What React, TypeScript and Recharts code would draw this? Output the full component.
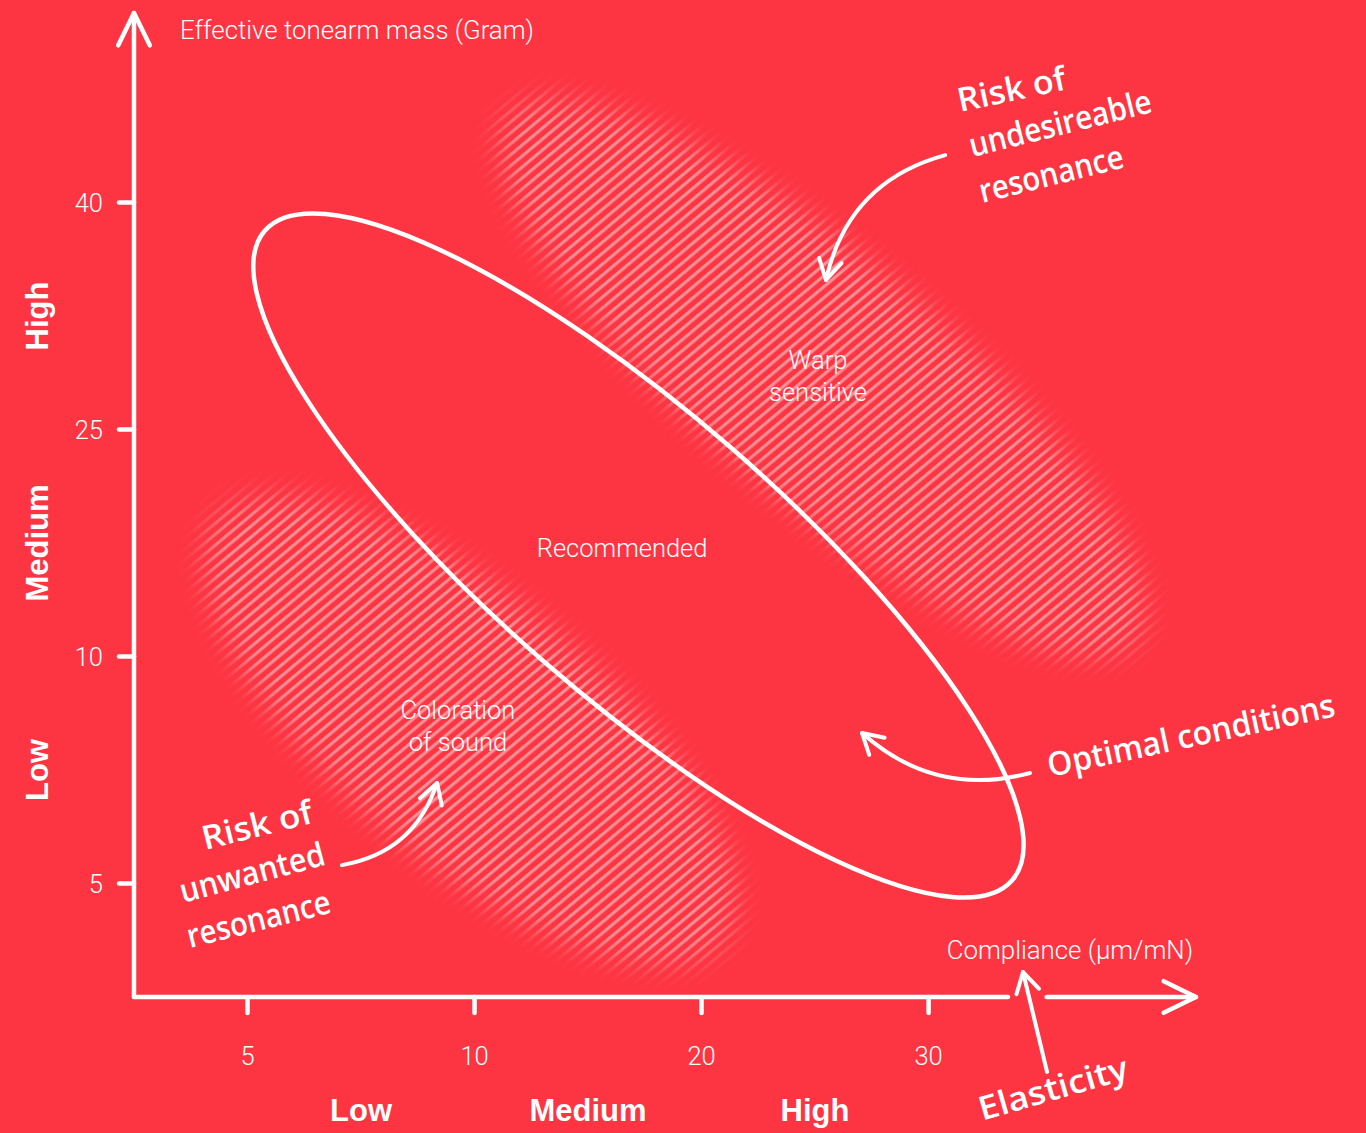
import React from 'react'
import {
  ComposedChart, XAxis, YAxis, Scatter,
  ReferenceArea, ReferenceLine, ReferenceDot,
} from 'recharts'

// ─── Palette & fonts ─────────────────────────────────────────────
const BG = '#fd3441'
const INK = '#ffffff'
const LIGHT_FONT = "Roboto, 'Liberation Sans', Arial, sans-serif"
const BOLD_FONT = "'Liberation Sans', Arial, sans-serif"
const HAND_FONT = "'Open Sans', 'Noto Sans', sans-serif"

// ─── Axes (positions are tick slots, ticks are evenly spaced) ────
const xTicks = [1, 2, 3, 4]
const xTickLabels = ['5', '10', '20', '30']
const yTicks = [1, 2, 3, 4]
const yTickLabels = ['5', '10', '25', '40']
const levelTicks = [1.5, 2.5, 3.5]
const levelLabels = ['Low', 'Medium', 'High']
const levelRowY = -0.046 // baseline of the Low / Medium / High row under the x axis
const xDomain = [0.5, 5.178]
const yDomain = [0.5, 4.835]
const xAxisBreak = [4.35, 4.52] // where the Elasticity arrow cuts the x axis

const yTitle = 'Effective tonearm mass (Gram)'
const yTitlePos = [0.703, 4.72]
const xTitle = 'Compliance (µm/mN)'
const xTitlePos = [5.165, 0.667]

// ─── Zones ───────────────────────────────────────────────────────
const zoneLabels = ['Recommended', 'Warp\nsensitive', 'Coloration\nof sound']
const zoneCx = [2.722, 3.531, 1.98]
const zoneCy = [2.445, 3.227, 1.676]
const zoneHalfLength = [2.181, 1.806, 1.454]
const zoneHalfWidth = [0.626, 0.529, 0.573]
const zoneTilt = [41, 40, 40]
const zoneHatched = [false, true, true]
const zoneLabelX = [2.65, 3.513, 1.927]
const zoneLabelY = [2.478, 3.236, 1.694]

// ─── Hand-written notes ──────────────────────────────────────────
const noteText = ['Risk of', 'undesireable', 'resonance', 'Risk of', 'unwanted', 'resonance', 'Optimal conditions', 'Elasticity']
const noteX = [4.139, 4.192, 4.236, 0.813, 0.716, 0.747, 4.535, 4.236]
const noteY = [4.399, 4.2, 3.998, 1.148, 0.914, 0.716, 1.469, -0.045]
const noteAngle = [-12, -14, -14, -14, -15, -14, -12, -16]
const NOTE_WIDTH = [110, 187, 148, 113, 149, 147, 293, 154]

const arrowFromX = [4.073, 1.416, 4.447, 4.522]
const arrowFromY = [4.209, 1.081, 1.487, 0.17]
const arrowToX = [3.548, 1.835, 3.707, 4.416]
const arrowToY = [3.659, 1.443, 1.663, 0.61]
const arrowBend = [0.3, 0.3, -0.27, 0]

const zoneTextData = zoneLabels.map((label, i) => ({ x: zoneLabelX[i], y: zoneLabelY[i], label }))

// ─── Shapes ──────────────────────────────────────────────────────
function arrowHead(tx: number, ty: number, ang: number, len: number, spread: number) {
  const a1 = ang + Math.PI - spread
  const a2 = ang + Math.PI + spread
  return `M${tx + len * Math.cos(a1)} ${ty + len * Math.sin(a1)} L${tx} ${ty} L${tx + len * Math.cos(a2)} ${ty + len * Math.sin(a2)}`
}

function AxisLine({ x1, y1, x2, y2, head }: any) {
  const ang = Math.atan2(y2 - y1, x2 - x1)
  return (
    <g>
      <line x1={x1} y1={y1} x2={x2} y2={y2} stroke={INK} strokeWidth={4.5} strokeLinecap="round" />
      {head && (
        <path d={arrowHead(x2, y2, ang, 36, (26 * Math.PI) / 180)} fill="none" stroke={INK}
          strokeWidth={4.5} strokeLinecap="round" strokeLinejoin="round" />
      )}
    </g>
  )
}

function CurvedArrow({ x1, y1, x2, y2, bend }: any) {
  const dx = x2 - x1
  const dy = y2 - y1
  const qx = (x1 + x2) / 2 - dy * bend
  const qy = (y1 + y2) / 2 + dx * bend
  const ang = Math.atan2(y2 - qy, x2 - qx)
  return (
    <g fill="none" stroke={INK} strokeWidth={4} strokeLinecap="round" strokeLinejoin="round">
      <path d={`M${x1} ${y1} Q${qx} ${qy} ${x2} ${y2}`} />
      <path d={arrowHead(x2, y2, ang, 23, (30 * Math.PI) / 180)} />
    </g>
  )
}

function ZoneShape({ x, y, width, height, idx }: any) {
  const cx = x + width / 2
  const cy = y + height / 2
  const rx = width / 2
  const ry = height / 2
  const t = `rotate(${zoneTilt[idx]} ${cx} ${cy})`
  if (!zoneHatched[idx]) {
    return <ellipse cx={cx} cy={cy} rx={rx} ry={ry} transform={t} fill="none" stroke={INK} strokeWidth={4.5} />
  }
  const pad = rx + 80
  return (
    <g>
      <defs>
        <pattern id={`hatch-${idx}`} patternUnits="userSpaceOnUse" width={8.4} height={8.4} patternTransform="rotate(50)">
          <rect x={0} y={0} width={3.2} height={8.4} fill="#fff" fillOpacity={0.45} />
        </pattern>
        <filter id={`soft-${idx}`} x="-50%" y="-50%" width="200%" height="200%">
          <feGaussianBlur stdDeviation={14} />
        </filter>
        <mask id={`mask-${idx}`} maskUnits="userSpaceOnUse" x={cx - pad} y={cy - pad} width={2 * pad} height={2 * pad}>
          <ellipse cx={cx} cy={cy} rx={rx} ry={ry} transform={t} fill="#fff" filter={`url(#soft-${idx})`} />
        </mask>
      </defs>
      <rect x={cx - pad} y={cy - pad} width={2 * pad} height={2 * pad}
        fill={`url(#hatch-${idx})`} mask={`url(#mask-${idx})`} />
    </g>
  )
}

function ZoneText({ cx, cy, payload }: any) {
  const lines: string[] = payload.label.split('\n')
  const lh = 32
  return (
    <text x={cx} y={cy} textAnchor="middle" fill={INK} fontSize={25.5} fontWeight={300} fontFamily={LIGHT_FONT}>
      {lines.map((l, i) => (
        <tspan key={i} x={cx} y={cy - ((lines.length - 1) * lh) / 2 + i * lh} dy="0.35em">{l}</tspan>
      ))}
    </text>
  )
}

function HandText({ cx, cy, idx }: any) {
  return (
    <text x={cx} y={cy} transform={`rotate(${noteAngle[idx]} ${cx} ${cy})`} fill={INK}
      fontSize={33} fontWeight={600} fontFamily={HAND_FONT}
      textLength={NOTE_WIDTH[idx]} lengthAdjust="spacingAndGlyphs">
      {noteText[idx]}
    </text>
  )
}

function LevelTickY({ x, y, payload }: any) {
  return (
    <text x={x} y={y} transform={`rotate(-90 ${x} ${y})`} textAnchor="middle" fill={INK}
      fontSize={31} fontWeight={700} fontFamily={BOLD_FONT}>
      {levelLabels[levelTicks.indexOf(payload.value)]}
    </text>
  )
}

// ─── Chart ───────────────────────────────────────────────────────
export default function App() {
  const tickStyle = { fill: INK, fontSize: 25.5, fontWeight: 300, fontFamily: LIGHT_FONT }
  const tickLine = { stroke: INK, strokeWidth: 4.5, strokeLinecap: 'round' as const }
  return (
    <div style={{ position: 'absolute', left: 0, top: 0, width: 1366, height: 1133, background: BG }}>
      <ComposedChart width={1366} height={1133} margin={{ top: 13, right: 170, bottom: 106, left: 34 }}>
        <XAxis type="number" dataKey="x" domain={xDomain} allowDataOverflow ticks={xTicks}
          tickFormatter={(v: number) => xTickLabels[xTicks.indexOf(v)]}
          axisLine={false} tickLine={tickLine} tickSize={16} tickMargin={34} tick={tickStyle} height={30} />
        <YAxis type="number" dataKey="y" domain={yDomain} allowDataOverflow ticks={yTicks}
          tickFormatter={(v: number) => yTickLabels[yTicks.indexOf(v)]}
          axisLine={false} tickLine={tickLine} tickSize={15} tickMargin={16} tick={tickStyle} width={60} />
        <YAxis yAxisId="level" type="number" domain={yDomain} allowDataOverflow ticks={levelTicks}
          axisLine={false} tickLine={false} tickSize={0} tickMargin={26} width={40}
          tick={(p: any) => <LevelTickY {...p} />} />

        {zoneLabels.map((_, i) => (
          <ReferenceArea key={`zone-${i}`} ifOverflow="visible"
            x1={zoneCx[i] - zoneHalfLength[i]} x2={zoneCx[i] + zoneHalfLength[i]}
            y1={zoneCy[i] - zoneHalfWidth[i]} y2={zoneCy[i] + zoneHalfWidth[i]}
            shape={(p: any) => <ZoneShape {...p} idx={i} />} />
        ))}

        <ReferenceLine ifOverflow="visible"
          segment={[{ x: xDomain[0], y: yDomain[0] }, { x: xDomain[0], y: yDomain[1] }]}
          shape={(p: any) => <AxisLine {...p} head />} />
        <ReferenceLine ifOverflow="visible"
          segment={[{ x: xDomain[0], y: yDomain[0] }, { x: xAxisBreak[0], y: yDomain[0] }]}
          shape={(p: any) => <AxisLine {...p} head={false} />} />
        <ReferenceLine ifOverflow="visible"
          segment={[{ x: xAxisBreak[1], y: yDomain[0] }, { x: xDomain[1], y: yDomain[0] }]}
          shape={(p: any) => <AxisLine {...p} head />} />

        {arrowBend.map((b, i) => (
          <ReferenceLine key={`arrow-${i}`} ifOverflow="visible"
            segment={[{ x: arrowFromX[i], y: arrowFromY[i] }, { x: arrowToX[i], y: arrowToY[i] }]}
            shape={(p: any) => <CurvedArrow {...p} bend={b} />} />
        ))}

        <ReferenceDot x={yTitlePos[0]} y={yTitlePos[1]} r={1} ifOverflow="visible"
          shape={(p: any) => (
            <text x={p.cx} y={p.cy} fill={INK} fontSize={25.8} fontWeight={300} fontFamily={LIGHT_FONT}>{yTitle}</text>
          )} />
        <ReferenceDot x={xTitlePos[0]} y={xTitlePos[1]} r={1} ifOverflow="visible"
          shape={(p: any) => (
            <text x={p.cx} y={p.cy} textAnchor="end" fill={INK} fontSize={25.8} fontWeight={300} fontFamily={LIGHT_FONT}>{xTitle}</text>
          )} />

        {levelLabels.map((label, i) => (
          <ReferenceDot key={`level-${i}`} x={levelTicks[i]} y={levelRowY} r={1} ifOverflow="visible"
            shape={(p: any) => (
              <text x={p.cx} y={p.cy} textAnchor="middle" fill={INK} fontSize={31} fontWeight={700}
                fontFamily={BOLD_FONT}>{label}</text>
            )} />
        ))}

        {noteText.map((_, i) => (
          <ReferenceDot key={`note-${i}`} x={noteX[i]} y={noteY[i]} r={1} ifOverflow="visible"
            shape={(p: any) => <HandText {...p} idx={i} />} />
        ))}

        <Scatter data={zoneTextData} dataKey="y" isAnimationActive={false}
          shape={(p: any) => <ZoneText {...p} />} />
      </ComposedChart>
    </div>
  )
}
